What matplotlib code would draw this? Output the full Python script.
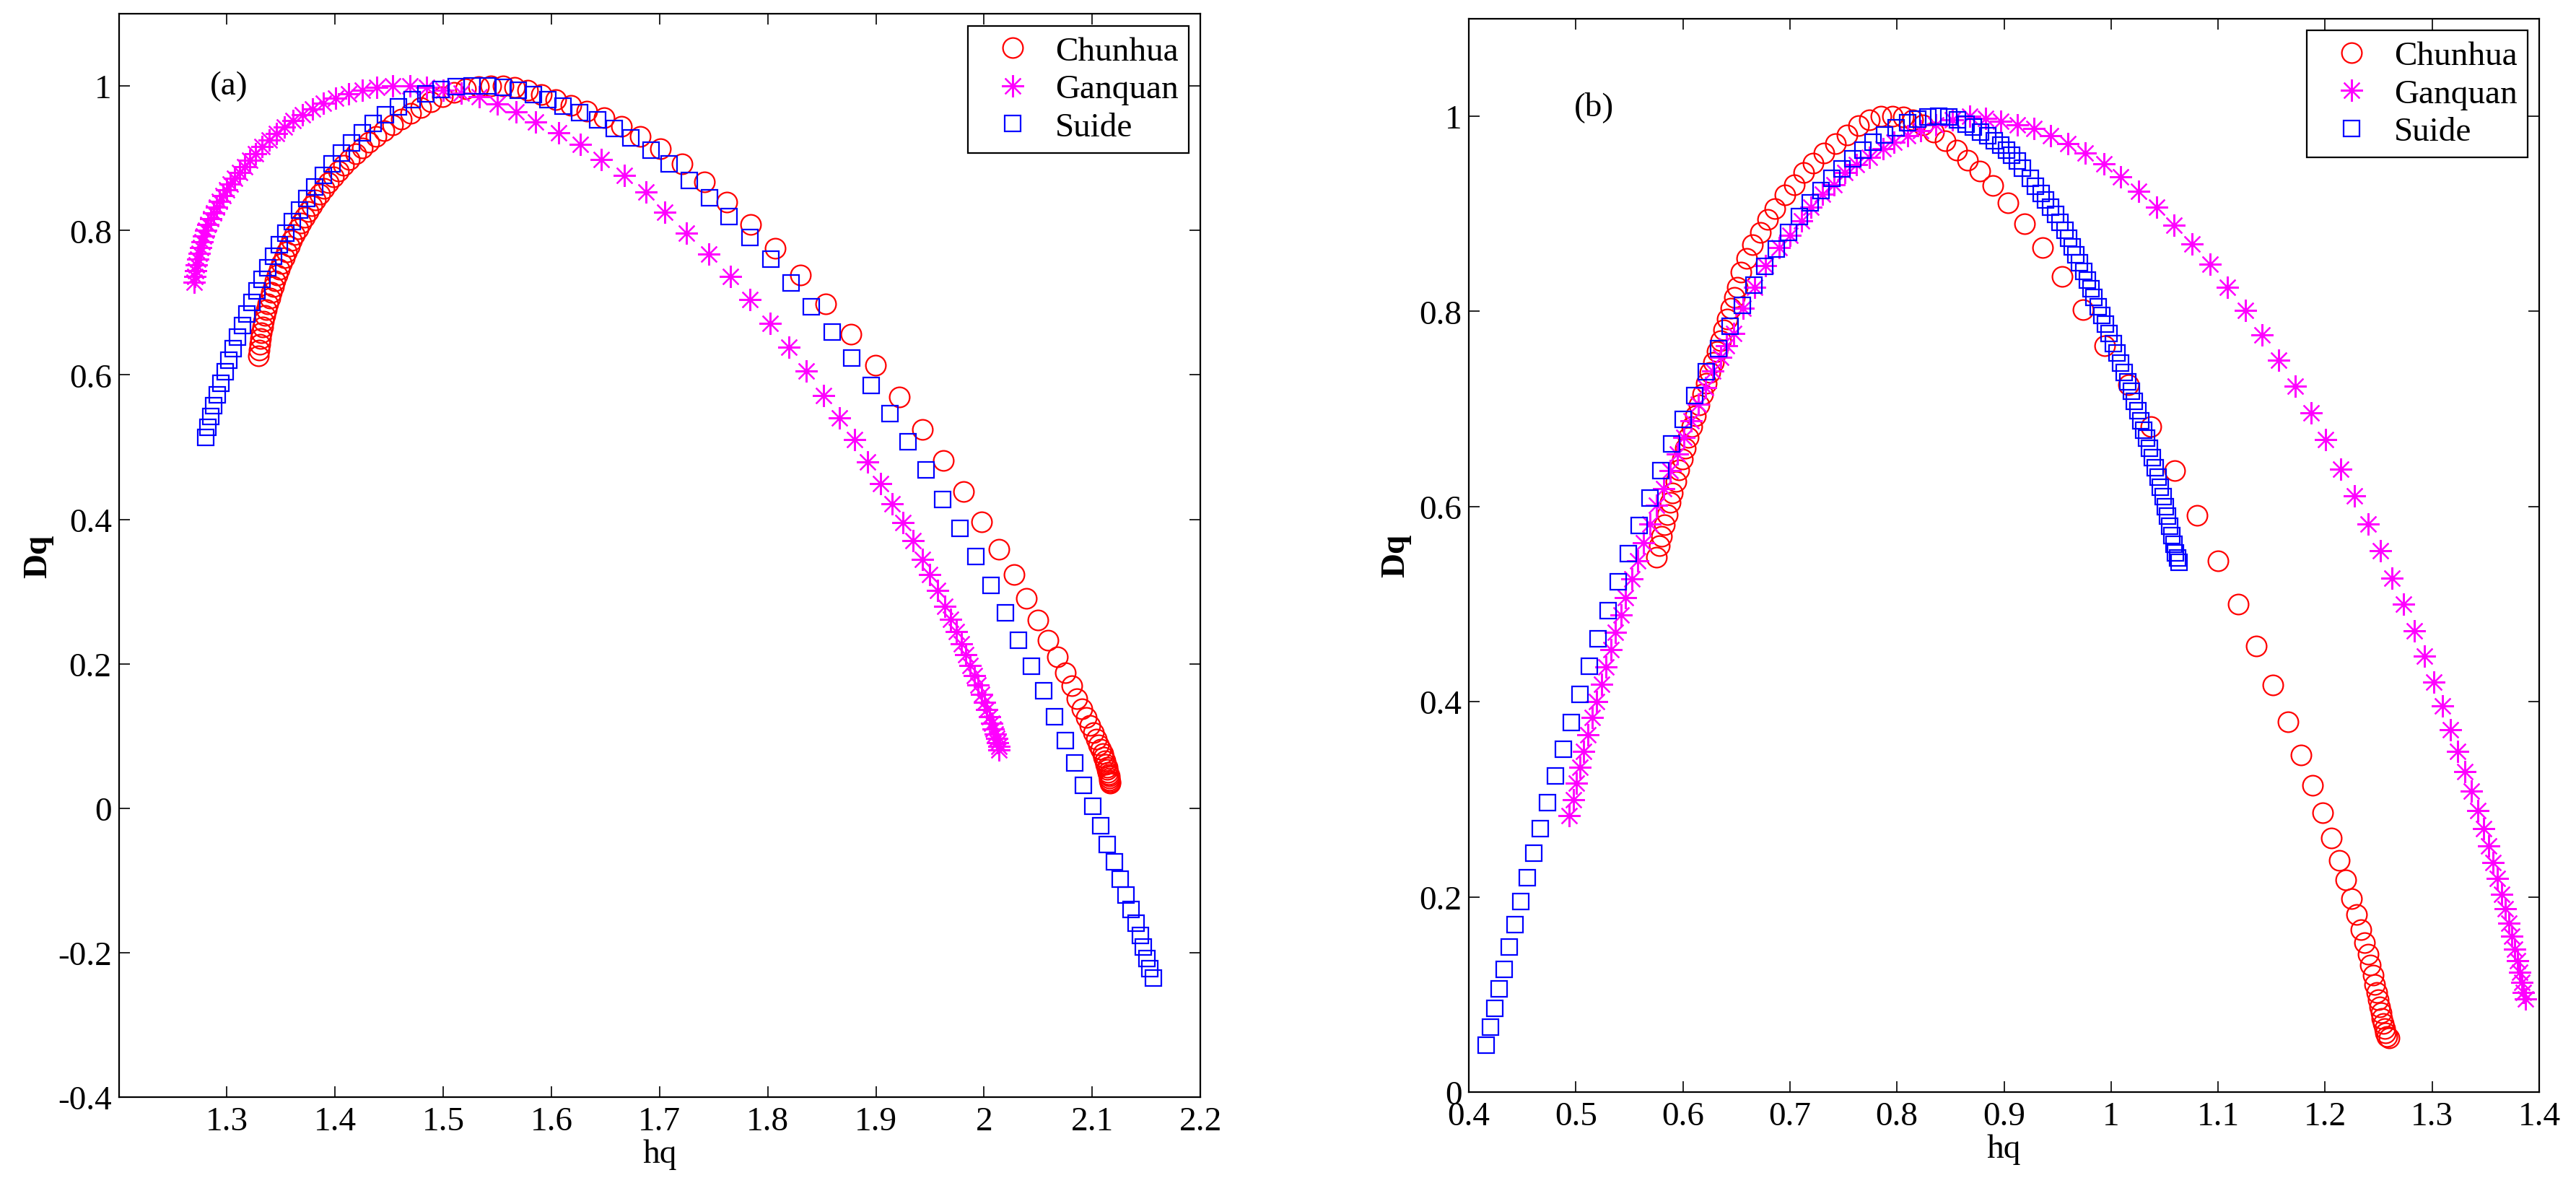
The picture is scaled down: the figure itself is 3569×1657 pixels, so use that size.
import matplotlib
matplotlib.use('Agg')
import matplotlib.pyplot as plt
from matplotlib.ticker import FuncFormatter

plt.rcParams['font.family'] = ['Liberation Serif', 'DejaVu Serif']

# ---------------- data: panel (a) ----------------
a_chunhua_hq = [1.3290, 1.3296, 1.3303, 1.3311, 1.3320, 1.3330, 1.3341, 1.3353, 1.3366, 1.3380,
                1.3395, 1.3411, 1.3428, 1.3446, 1.3465, 1.3485, 1.3506, 1.3528, 1.3551, 1.3575,
                1.3600, 1.3627, 1.3655, 1.3685, 1.3716, 1.3749, 1.3783, 1.3819, 1.3857, 1.3897,
                1.3939, 1.3983, 1.4030, 1.4080, 1.4133, 1.4189, 1.4249, 1.4313, 1.4381, 1.4453,
                1.4530, 1.4612, 1.4699, 1.4791, 1.4888, 1.4990, 1.5097, 1.5208, 1.5323, 1.5440,
                1.5555, 1.5660, 1.5780, 1.5910, 1.6040, 1.6180, 1.6330, 1.6490, 1.6650, 1.6820,
                1.7007, 1.7206, 1.7412, 1.7621, 1.7844, 1.8069, 1.8302, 1.8534, 1.8770, 1.8995,
                1.9215, 1.9430, 1.9623, 1.9812, 1.9980, 2.0138, 2.0276, 2.0394, 2.0500, 2.0594,
                2.0677, 2.0748, 2.0808, 2.0861, 2.0906, 2.0948, 2.0981, 2.1012, 2.1039, 2.1061,
                2.1079, 2.1095, 2.1108, 2.1119, 2.1128, 2.1135, 2.1141, 2.1146, 2.1150, 2.1155,
                2.1157, 2.1160, 2.1162, 2.1164]
a_chunhua_dq = [0.626, 0.634, 0.642, 0.650, 0.658, 0.666, 0.674, 0.682, 0.690, 0.698,
                0.706, 0.714, 0.722, 0.730, 0.738, 0.746, 0.754, 0.762, 0.770, 0.778,
                0.786, 0.794, 0.802, 0.810, 0.818, 0.826, 0.834, 0.842, 0.850, 0.858,
                0.866, 0.874, 0.882, 0.890, 0.898, 0.906, 0.914, 0.922, 0.930, 0.938,
                0.946, 0.954, 0.962, 0.970, 0.978, 0.985, 0.991, 0.996, 0.999, 1.000,
                1.000, 0.998, 0.994, 0.988, 0.981, 0.973, 0.965, 0.956, 0.944, 0.930,
                0.9136, 0.892, 0.867, 0.839, 0.8085, 0.775, 0.738, 0.698, 0.656, 0.613,
                0.569, 0.524, 0.481, 0.438, 0.397, 0.359, 0.324, 0.291, 0.261, 0.233,
                0.210, 0.188, 0.170, 0.152, 0.138, 0.126, 0.115, 0.105, 0.096, 0.088,
                0.082, 0.076, 0.071, 0.066, 0.061, 0.057, 0.054, 0.050, 0.047, 0.045,
                0.042, 0.039, 0.037, 0.035]

a_ganquan_hq = [1.2700, 1.2705, 1.2712, 1.2720, 1.2730, 1.2742, 1.2755, 1.2770, 1.2787, 1.2806,
                1.2827, 1.2850, 1.2875, 1.2902, 1.2931, 1.2963, 1.2997, 1.3034, 1.3074, 1.3117,
                1.3163, 1.3213, 1.3267, 1.3325, 1.3388, 1.3456, 1.3530, 1.3610, 1.3697, 1.3791,
                1.3893, 1.4003, 1.4122, 1.4250, 1.4388, 1.4535, 1.4690, 1.4845, 1.5000, 1.5165,
                1.5333, 1.5500, 1.5674, 1.5856, 1.6068, 1.6265, 1.6462, 1.6674, 1.6871, 1.7047,
                1.7249, 1.7455, 1.7654, 1.7837, 1.8023, 1.8195, 1.8358, 1.8517, 1.8660, 1.8800,
                1.8922, 1.9042, 1.9151, 1.9251, 1.9340, 1.9427, 1.9500, 1.9571, 1.9638, 1.9693,
                1.9742, 1.9789, 1.9831, 1.9871, 1.9909, 1.9943, 1.9974, 2.0003, 2.0027, 2.0050,
                2.0070, 2.0087, 2.0103, 2.0116, 2.0127, 2.0134, 2.0140]
a_ganquan_dq = [0.728, 0.736, 0.744, 0.752, 0.760, 0.768, 0.776, 0.784, 0.792, 0.800,
                0.808, 0.816, 0.824, 0.832, 0.840, 0.848, 0.856, 0.864, 0.872, 0.880,
                0.888, 0.897, 0.906, 0.916, 0.925, 0.934, 0.943, 0.952, 0.960, 0.968,
                0.976, 0.983, 0.989, 0.994, 0.998, 1.000, 1.000, 0.998, 0.994, 0.990,
                0.985, 0.975, 0.964, 0.950, 0.935, 0.919, 0.898, 0.876, 0.853, 0.825,
                0.796, 0.767, 0.736, 0.704, 0.671, 0.638, 0.605, 0.5715, 0.540, 0.510,
                0.479, 0.449, 0.422, 0.396, 0.371, 0.345, 0.324, 0.302, 0.280, 0.262,
                0.245, 0.228, 0.2125, 0.198, 0.184, 0.171, 0.158, 0.147, 0.137, 0.127,
                0.118, 0.110, 0.103, 0.0964, 0.0906, 0.0853, 0.081]

a_suide_hq = [1.2805, 1.2825, 1.2850, 1.2878, 1.2910, 1.2945, 1.2982, 1.3020, 1.3060, 1.3100,
              1.3142, 1.3185, 1.3230, 1.3277, 1.3326, 1.3377, 1.3430, 1.3486, 1.3545, 1.3607,
              1.3672, 1.3741, 1.3814, 1.3891, 1.3973, 1.4060, 1.4152, 1.4250, 1.4355, 1.4467,
              1.4585, 1.4710, 1.4842, 1.4980, 1.5122, 1.5268, 1.5410, 1.5550, 1.5690, 1.5830,
              1.5970, 1.6110, 1.6258, 1.6424, 1.6580, 1.6735, 1.6924, 1.7090, 1.7272, 1.7462,
              1.7644, 1.7837, 1.8030, 1.8218, 1.8405, 1.8593, 1.8776, 1.8956, 1.9128, 1.9297,
              1.9464, 1.9620, 1.9779, 1.9925, 2.0063, 2.0196, 2.0319, 2.0436, 2.0548, 2.0650,
              2.0750, 2.0837, 2.0921, 2.1004, 2.1077, 2.1139, 2.1204, 2.1257, 2.1310, 2.1357,
              2.1402, 2.1442, 2.1475, 2.1508, 2.1535, 2.1562]
a_suide_dq = [0.513, 0.527, 0.542, 0.557, 0.572, 0.588, 0.604, 0.620, 0.636, 0.652,
              0.668, 0.684, 0.700, 0.716, 0.732, 0.748, 0.764, 0.780, 0.796, 0.812,
              0.828, 0.844, 0.860, 0.876, 0.892, 0.907, 0.921, 0.935, 0.948, 0.960,
              0.971, 0.981, 0.989, 0.995, 0.999, 1.000, 1.000, 0.998, 0.994, 0.988,
              0.981, 0.972, 0.963, 0.953, 0.941, 0.928, 0.911, 0.892, 0.869, 0.845,
              0.819, 0.790, 0.760, 0.727, 0.694, 0.659, 0.623, 0.585, 0.546, 0.507,
              0.468, 0.428, 0.388, 0.349, 0.309, 0.271, 0.233, 0.197, 0.1625, 0.127,
              0.094, 0.063, 0.032, 0.003, -0.024, -0.050, -0.0746, -0.098, -0.120, -0.140,
              -0.159, -0.176, -0.192, -0.208, -0.222, -0.235]

# ---------------- data: panel (b) ----------------
b_chunhua_hq = [0.5752, 0.5782, 0.5803, 0.5828, 0.5852, 0.5879, 0.5903, 0.5933, 0.5963, 0.5993,
                0.6023, 0.6053, 0.6086, 0.6119, 0.6152, 0.6185, 0.6218, 0.6251, 0.6284, 0.6317,
                0.6350, 0.6383, 0.6416, 0.6449, 0.6480, 0.6509, 0.6545, 0.6597, 0.6650, 0.6721,
                0.6792, 0.6862, 0.6950, 0.7038, 0.7127, 0.7214, 0.7320, 0.7426, 0.7532, 0.7638,
                0.7744, 0.7850, 0.7956, 0.8061, 0.8150, 0.8240, 0.8340, 0.8450, 0.8560, 0.8660,
                0.8773, 0.8897, 0.9038, 0.9190, 0.9359, 0.9542, 0.9736, 0.9941, 1.0160, 1.0371,
                1.0592, 1.0802, 1.1000, 1.1187, 1.1358, 1.1515, 1.1653, 1.1774, 1.1882, 1.1978,
                1.2061, 1.2132, 1.2190, 1.2248, 1.2295, 1.2336, 1.2369, 1.2400, 1.2424, 1.2446,
                1.2466, 1.2482, 1.2496, 1.2510, 1.2521, 1.2532, 1.2543, 1.2554, 1.2565, 1.2579,
                1.2600]
b_chunhua_dq = [0.5477, 0.560, 0.5698, 0.581, 0.592, 0.6044, 0.6142, 0.6253, 0.6373, 0.6488,
                0.6594, 0.671, 0.682, 0.693, 0.704, 0.715, 0.726, 0.737, 0.748, 0.759,
                0.770, 0.781, 0.792, 0.803, 0.814, 0.825, 0.840, 0.854, 0.868, 0.881,
                0.894, 0.905, 0.919, 0.930, 0.942, 0.952, 0.962, 0.972, 0.981, 0.990,
                0.996, 1.000, 1.000, 0.999, 0.996, 0.991, 0.984, 0.975, 0.965, 0.955,
                0.944, 0.929, 0.911, 0.890, 0.865, 0.836, 0.802, 0.765, 0.725, 0.682,
                0.6364, 0.5907, 0.5446, 0.4998, 0.4572, 0.4169, 0.3792, 0.345, 0.314, 0.286,
                0.2603, 0.2373, 0.2173, 0.1982, 0.1818, 0.1663, 0.153, 0.141, 0.130, 0.1197,
                0.1104, 0.102, 0.0945, 0.0874, 0.0812, 0.0754, 0.0701, 0.0652, 0.0608, 0.0568,
                0.0554]

b_ganquan_hq = [0.4934, 0.4979, 0.5006, 0.5039, 0.5075, 0.5114, 0.5156, 0.5196, 0.5238, 0.5280,
                0.5325, 0.5370, 0.5421, 0.5466, 0.5521, 0.5575, 0.5632, 0.5692, 0.5752, 0.5819,
                0.5882, 0.5948, 0.6008, 0.6075, 0.6142, 0.6210, 0.6280, 0.6350, 0.6410, 0.6474,
                0.6562, 0.6668, 0.6774, 0.6898, 0.7003, 0.7109, 0.7197, 0.7303, 0.7409, 0.7515,
                0.7621, 0.7744, 0.7868, 0.7973, 0.8097, 0.8220, 0.8361, 0.8521, 0.8678, 0.8827,
                0.8968, 0.9126, 0.9278, 0.9437, 0.9595, 0.9761, 0.9931, 1.0089, 1.0255, 1.0424,
                1.0590, 1.0759, 1.0928, 1.1087, 1.1253, 1.1411, 1.1563, 1.1718, 1.1870, 1.2006,
                1.2143, 1.2273, 1.2400, 1.2515, 1.2625, 1.2733, 1.2832, 1.2928, 1.3017, 1.3099,
                1.3171, 1.3240, 1.3306, 1.3369, 1.3424, 1.3479, 1.3526, 1.3570, 1.3612, 1.3650,
                1.3686, 1.3719, 1.3747, 1.3774, 1.3796, 1.3818, 1.3837, 1.3854, 1.3873]
b_ganquan_dq = [0.2834, 0.2993, 0.3162, 0.3326, 0.349, 0.3659, 0.3836, 0.4004, 0.4182, 0.4359,
                0.4537, 0.4714, 0.4891, 0.5069, 0.5255, 0.5441, 0.5628, 0.5823, 0.6009, 0.6186,
                0.6364, 0.6541, 0.671, 0.688, 0.705, 0.722, 0.739, 0.753, 0.765, 0.777,
                0.803, 0.825, 0.847, 0.865, 0.878, 0.893, 0.907, 0.920, 0.930, 0.942,
                0.950, 0.958, 0.967, 0.973, 0.980, 0.985, 0.991, 0.996, 1.000, 0.998,
                0.995, 0.991, 0.987, 0.980, 0.972, 0.962, 0.951, 0.938, 0.923, 0.907,
                0.888, 0.869, 0.848, 0.825, 0.801, 0.776, 0.750, 0.723, 0.696, 0.6683,
                0.6386, 0.6111, 0.5823, 0.5543, 0.5264, 0.4998, 0.4723, 0.4466, 0.4204, 0.3956,
                0.3716, 0.3494, 0.3282, 0.3082, 0.2882, 0.2696, 0.2519, 0.235, 0.2186, 0.2027,
                0.1876, 0.173, 0.1596, 0.1463, 0.1344, 0.1228, 0.1122, 0.102, 0.0953]

b_suide_hq = [0.4163, 0.4203, 0.4242, 0.4284, 0.4329, 0.4377, 0.4431, 0.4485, 0.4543, 0.4606,
              0.4669, 0.4735, 0.4807, 0.4883, 0.4958, 0.5039, 0.5123, 0.5210, 0.5301, 0.5394,
              0.5490, 0.5590, 0.5695, 0.5794, 0.5897, 0.6000, 0.6110, 0.6220, 0.6330, 0.6440,
              0.6555, 0.6661, 0.6767, 0.6873, 0.6986, 0.7091, 0.7190, 0.7289, 0.7391, 0.7486,
              0.7585, 0.7684, 0.7779, 0.7885, 0.7991, 0.8097, 0.8192, 0.8291, 0.8390, 0.8484,
              0.8566, 0.8643, 0.8714, 0.8784, 0.8848, 0.8908, 0.8968, 0.9021, 0.9074, 0.9126,
              0.9172, 0.9243, 0.9296, 0.9344, 0.9391, 0.9437, 0.9483, 0.9525, 0.9567, 0.9603,
              0.9638, 0.9673, 0.9708, 0.9744, 0.9779, 0.9811, 0.9842, 0.9877, 0.9912, 0.9948,
              0.9983, 1.0019, 1.0054, 1.0089, 1.0124, 1.0156, 1.0188, 1.0218, 1.0248, 1.0278,
              1.0307, 1.0334, 1.0360, 1.0386, 1.0412, 1.0437, 1.0461, 1.0484, 1.0506, 1.0527,
              1.0547, 1.0566, 1.0585, 1.0603, 1.0620, 1.0636]
b_suide_dq = [0.0479, 0.0665, 0.086, 0.106, 0.126, 0.1486, 0.1716, 0.195, 0.2195, 0.2448,
              0.270, 0.2967, 0.3237, 0.3512, 0.379, 0.4075, 0.4364, 0.4647, 0.4936, 0.5228,
              0.5517, 0.5805, 0.6089, 0.6364, 0.6639, 0.689, 0.714, 0.738, 0.762, 0.785,
              0.806, 0.827, 0.846, 0.864, 0.881, 0.897, 0.911, 0.924, 0.936, 0.946,
              0.956, 0.965, 0.973, 0.981, 0.988, 0.993, 0.997, 0.999, 1.000, 0.999,
              0.996, 0.992, 0.989, 0.984, 0.980, 0.975, 0.970, 0.965, 0.960, 0.954,
              0.947, 0.936, 0.928, 0.921, 0.914, 0.907, 0.899, 0.891, 0.883, 0.875,
              0.866, 0.858, 0.850, 0.841, 0.832, 0.823, 0.814, 0.805, 0.796, 0.787,
              0.777, 0.767, 0.757, 0.747, 0.737, 0.728, 0.718, 0.708, 0.698, 0.688,
              0.678, 0.670, 0.660, 0.650, 0.640, 0.630, 0.620, 0.610, 0.600, 0.590,
              0.580, 0.570, 0.561, 0.5525, 0.547, 0.543]

series_names = ['Chunhua', 'Ganquan', 'Suide']
panel_labels = ['(a)', '(b)']

a_xticks = [1.3, 1.4, 1.5, 1.6, 1.7, 1.8, 1.9, 2.0, 2.1, 2.2]
a_yticks = [-0.4, -0.2, 0, 0.2, 0.4, 0.6, 0.8, 1.0]
b_xticks = [0.4, 0.5, 0.6, 0.7, 0.8, 0.9, 1.0, 1.1, 1.2, 1.3, 1.4]
b_yticks = [0, 0.2, 0.4, 0.6, 0.8, 1.0]

# ---------------- styling ----------------
FS = 34
marker_styles = [
    dict(marker='o', markersize=20, markerfacecolor='none', markeredgecolor='#ff0000', markeredgewidth=1.6),
    dict(marker=(8, 2, 0), markersize=22, markerfacecolor='none', markeredgecolor='#ff00ff', markeredgewidth=1.6),
    dict(marker='s', markersize=16.5, markerfacecolor='none', markeredgecolor='#0000ff', markeredgewidth=1.6),
]

fig = plt.figure(figsize=(35.69, 16.58), dpi=100)
ax_a = fig.add_axes([0.0461, 0.0826, 0.4199, 0.9053])
ax_b = fig.add_axes([0.5702, 0.0869, 0.4155, 0.8970])

panels = [
    (ax_a, [(a_chunhua_hq, a_chunhua_dq), (a_ganquan_hq, a_ganquan_dq), (a_suide_hq, a_suide_dq)],
     (1.2, 2.2), (-0.4, 1.1), a_xticks, a_yticks, (1.302, 1.0), 4),
    (ax_b, [(b_chunhua_hq, b_chunhua_dq), (b_ganquan_hq, b_ganquan_dq), (b_suide_hq, b_suide_dq)],
     (0.4, 1.4), (0.0, 1.1), b_xticks, b_yticks, (0.517, 1.01), 8),
]

fmt = FuncFormatter(lambda v, p: '%g' % round(v, 6))

for i, (ax, series, xl, yl, xt, yt, lab_pos, ylpad) in enumerate(panels):
    for (hq, dq), name, st in zip(series, series_names, marker_styles):
        n = min(len(hq), len(dq))
        ax.plot(hq[:n], dq[:n], linestyle='none', label=name, **st)
    ax.set_xlim(*xl)
    ax.set_ylim(*yl)
    ax.set_xticks(xt)
    ax.set_yticks(yt)
    ax.xaxis.set_major_formatter(fmt)
    ax.yaxis.set_major_formatter(fmt)
    ax.tick_params(which='both', direction='in', length=11, width=1.2,
                   top=True, right=True, labelsize=FS)
    ax.tick_params(axis='x', pad=9)
    ax.tick_params(axis='y', pad=7)
    for sp in ax.spines.values():
        sp.set_linewidth(1.6)
    ax.set_xlabel('hq', fontsize=FS, labelpad=2)
    ax.set_ylabel('Dq', fontsize=FS, fontweight='bold', labelpad=ylpad)
    ax.text(lab_pos[0], lab_pos[1], panel_labels[i], fontsize=FS, ha='center', va='center')
    leg = ax.legend(loc='upper right', bbox_to_anchor=(0.989, 0.989), borderaxespad=0,
                    fontsize=FS, frameon=True, fancybox=False, edgecolor='black',
                    framealpha=1, handlelength=2.0, handletextpad=0.25, borderpad=0.3,
                    labelspacing=0.2, numpoints=1)
    leg.get_frame().set_linewidth(1.6)

fig.savefig('out.png', dpi=100)
